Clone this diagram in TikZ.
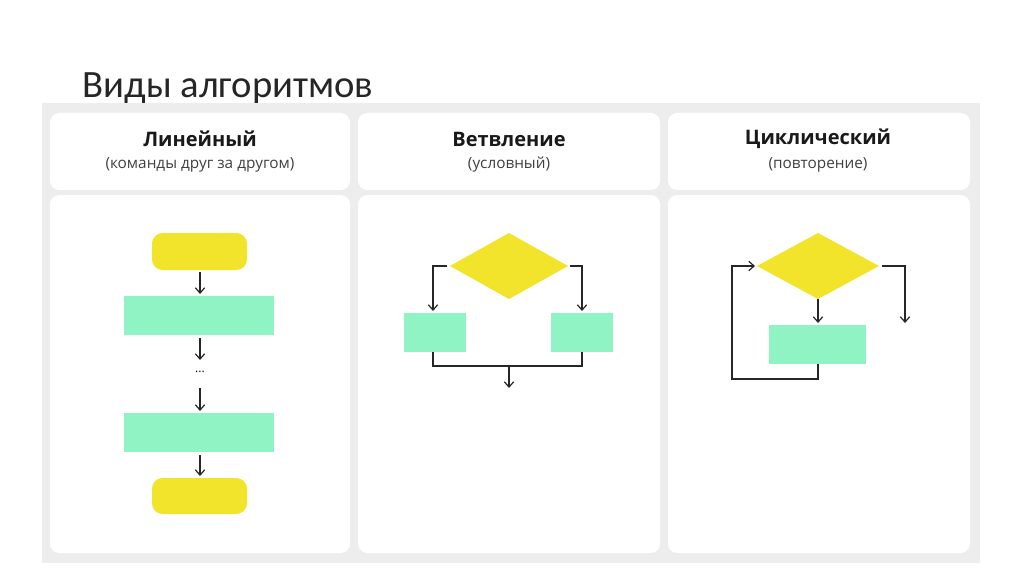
\documentclass[tikz,border=0pt]{standalone}
\usepackage{fontspec}
\setmainfont{Open Sans}
\newfontfamily\titlefont{Carlito}
\usetikzlibrary{arrows.meta}
\definecolor{yel}{HTML}{F2E32B}
\definecolor{grn}{HTML}{8FF3C4}
\definecolor{panel}{HTML}{EDEDED}
\begin{document}
\begin{tikzpicture}[x=0.75pt,y=-0.75pt,
  card/.style={fill=white,rounded corners=7pt},
  term/.style={fill=yel,rounded corners=8pt},
  proc/.style={fill=grn},
  dia/.style={fill=yel},
  ln/.style={draw=black!85,line width=0.9pt},
  arr/.style={ln,-{Straight Barb[length=4pt,width=7pt]}},
  hd/.style={font=\fontsize{15}{17}\selectfont\bfseries,text=black!90},
  sub/.style={font=\fontsize{11.5}{13}\selectfont,text=black!75}]
\useasboundingbox (0,0) rectangle (1024,574);
\fill[white] (0,0) rectangle (1024,574);
\node[anchor=base west,font=\titlefont\fontsize{29}{32}\selectfont,text=black!85] (title) at (78,98) {Виды алгоритмов};
\fill[panel] (42,103) rectangle (980,563);
\foreach \a/\b in {50/350,358/660,668/970}{
  \fill[card] (\a,113) rectangle (\b,190);
  \fill[card] (\a,195) rectangle (\b,553);}
\node[hd] (h1) at (200,139) {Линейный};
\node[sub] (s1) at (200,165) {(команды друг за другом)};
\node[hd] (h2) at (509,139) {Ветвление};
\node[sub] (s2) at (509,165) {(условный)};
\node[hd] (h3) at (818,139) {Циклический};
\node[sub] (s3) at (818,165) {(повторение)};
% linear
\path[term] (152,233) rectangle (247,270); \coordinate (t1b) at (200,272);
\path[proc] (124,296) rectangle (274,335);
\coordinate (p1t) at (200,294); \coordinate (p1b) at (200,338);
\coordinate (d1) at (200,360);
\node[font=\small] (dots) at (200,372) {...};
\coordinate (d2) at (200,388); \coordinate (p2t) at (200,411);
\path[proc] (124,413) rectangle (274,452);
\coordinate (p2b) at (200,455); \coordinate (t2t) at (200,476);
\path[term] (152,478) rectangle (247,514);
\draw[arr] (t1b) -- (p1t);
\draw[arr] (p1b) -- (d1);
\draw[arr] (d2) -- (p2t);
\draw[arr] (p2b) -- (t2t);
% branch
\path[dia] (450,266) -- (509,233) -- (568,266) -- (509,299) -- cycle;
\path[proc] (404,313) rectangle (466,352);
\path[proc] (551,313) rectangle (613,352);
\coordinate (bl) at (447,266); \coordinate (br) at (570,266);
\coordinate (lt) at (433,311); \coordinate (rt) at (582,311);
\coordinate (lb) at (433,352); \coordinate (rb) at (582,352);
\coordinate (bm) at (509,366); \coordinate (bo) at (509,388);
\draw[arr] (bl) -| (lt);
\draw[arr] (br) -| (rt);
\draw[ln] (lb) |- (bm) -| (rb);
\draw[arr] (bm) -- (bo);
% cyclic
\path[dia] (757,266) -- (818,233) -- (879,266) -- (818,299) -- cycle;
\path[proc] (769,325) rectangle (866,364);
\coordinate (cb) at (818,299); \coordinate (ct) at (818,323);
\coordinate (cr) at (882,266); \coordinate (ce) at (905,323);
\coordinate (cbb) at (818,364); \coordinate (cl) at (732,379);
\coordinate (cin) at (755,266);
\draw[arr] (cb) -- (ct);
\draw[arr] (cr) -| (ce);
\draw[arr] (cbb) |- (cl) |- (cin);
\end{tikzpicture}
\end{document}
